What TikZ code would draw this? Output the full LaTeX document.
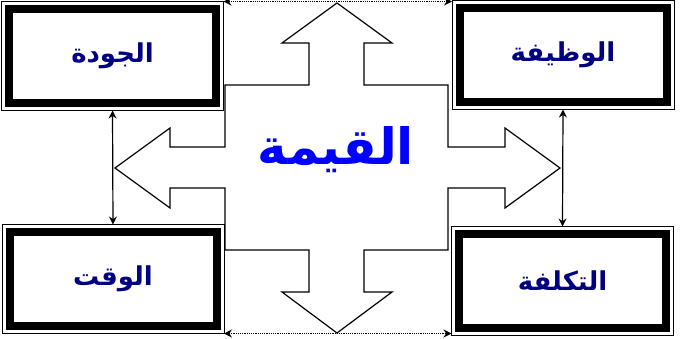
\documentclass[tikz,border=0pt]{standalone}
\usepackage{fontspec}
\usetikzlibrary{arrows.meta}
\TeXXeTstate=1
\newfontfamily\arabicfont[Script=Arabic]{DejaVu Sans}
\definecolor{labelnavy}{RGB}{0,0,128}
\definecolor{valueblue}{RGB}{0,0,255}
\begin{document}
\begin{tikzpicture}[x=1pt,y=-1pt]
	\tikzstyle{valbox}=[draw,line width=8pt,minimum width=207pt,minimum height=94pt,outer sep=7.5pt,inner sep=0pt,text=labelnavy,font=\arabicfont\bfseries\fontsize{26}{30}\selectfont]
	\tikzstyle{link}=[line width=1.2pt,{Stealth[length=8pt,width=8pt]}-{Stealth[length=8pt,width=8pt]}]
	\useasboundingbox (0,0) rectangle (680,338);
	% the four boxes
	\node[valbox] (jawda) at (112.5,56) {\beginR الجودة\endR};
	\node[valbox] (wazifa) at (563,55) {\beginR الوظيفة\endR};
	\node[valbox] (waqt) at (113,279) {\beginR الوقت\endR};
	\node[valbox] (taklifa) at (562.5,281) {\beginR التكلفة\endR};
	\foreach \n in {jawda,wazifa,waqt,taklifa}
		\draw [line width=1pt] (\n.north west) rectangle (\n.south east);
	% connectors
	\draw [link] (jawda.south) -- (waqt.north);
	\draw [link] (wazifa.south) -- (taklifa.north);
	\draw [link,densely dotted] (jawda.north east) -- (jawda.north east -| wazifa.west);
	\draw [link,densely dotted] (waqt.south east) -- (waqt.south east -| taklifa.west);
	% four-way arrow
	\draw [line width=1.2pt] (337,3) -- (392,43) -- (364,43) -- (364,85) -- (448,85) -- (448,147)
		-- (505,147) -- (505,128) -- (560,168) -- (505,208) -- (505,188) -- (448,188)
		-- (448,250) -- (364,250) -- (364,292) -- (392,292) -- (337,333) -- (282,292)
		-- (309,292) -- (309,250) -- (225,250) -- (225,188) -- (170,188) -- (170,208)
		-- (115,168) -- (170,128) -- (170,147) -- (225,147) -- (225,85) -- (309,85)
		-- (309,43) -- (282,43) -- cycle;
	\node[text=valueblue,font=\arabicfont\bfseries\fontsize{50}{60}\selectfont] (qima) at (336,150) {\beginR القيمة\endR};
\end{tikzpicture}
\end{document}
